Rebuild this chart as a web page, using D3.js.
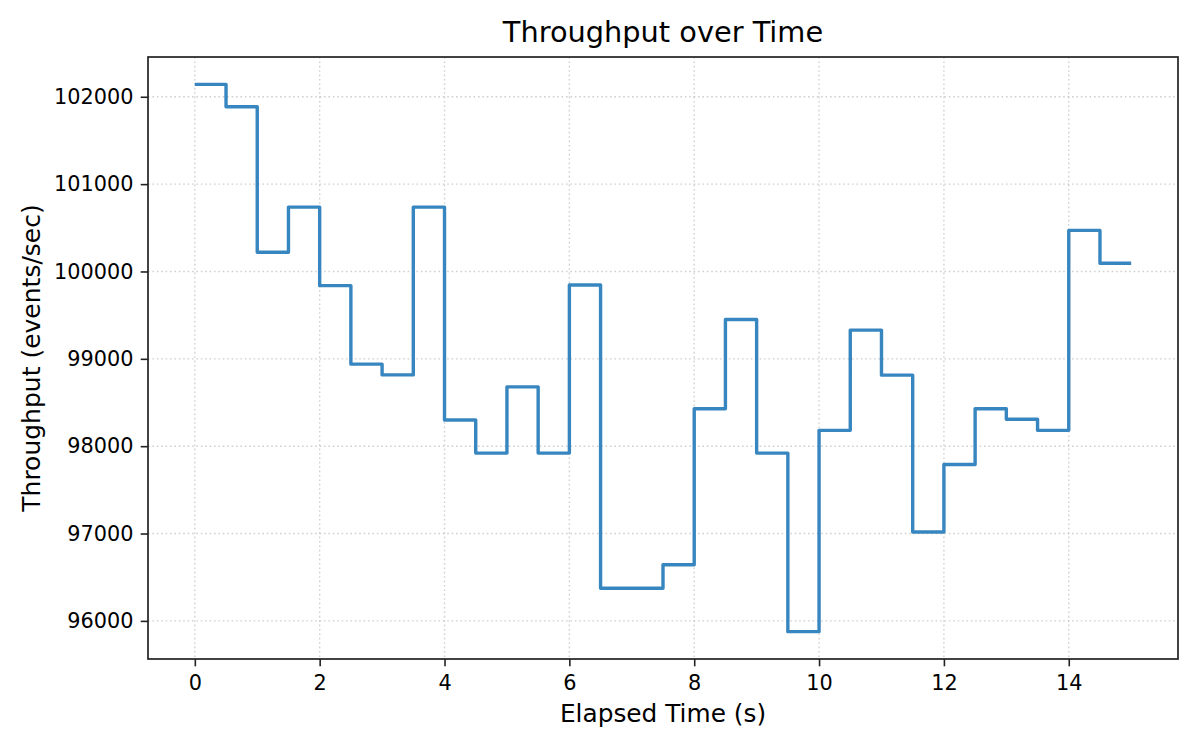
<!DOCTYPE html>
<meta charset="utf-8">
<style>
body { margin: 0; background: #fff; }
text { font-family: "DejaVu Sans", sans-serif; fill: #000; }
.axis path, .axis line { stroke: #222; }
.grid line { stroke: #b0b0b0; stroke-opacity: 0.6; stroke-width: 1.4; stroke-dasharray: 1.6,2.8; }
</style>
<body>
<svg width="1200" height="750"></svg>
<script src="https://d3js.org/d3.v7.min.js"></script>
<script>

// elapsed time (s) and throughput (events/sec), step drawn "post"
var times = [0, 0.5, 1, 1.5, 2, 2.5, 3, 3.5, 4, 4.5, 5, 5.5, 6, 6.5, 7, 7.5,
             8, 8.5, 9, 9.5, 10, 10.5, 11, 11.5, 12, 12.5, 13, 13.5, 14, 14.5, 15];
var throughput = [102142, 101885, 100220, 100737, 99838, 98939, 98816, 100737,
                  98300, 97921, 98679, 97921, 99846, 96374, 96374, 96643,
                  98429, 99451, 97921, 95877, 98181, 99329, 98813, 97017,
                  97791, 98429, 98308, 98181, 100470, 100094, 100094];
var xTicks = [0, 2, 4, 6, 8, 10, 12, 14];
var yTicks = [96000, 97000, 98000, 99000, 100000, 101000, 102000];

var data = times.map(function(t, i) { return {t: t, v: throughput[i]}; });

var svg = d3.select("svg"),
    g = svg.append("g");

var pLeft = 148, pRight = 1178, pTop = 57, pBottom = 659;

// 5% padding on both axes
var xMin = d3.min(times), xMax = d3.max(times), xPad = (xMax - xMin) * 0.05;
var yMin = d3.min(throughput), yMax = d3.max(throughput), yPad = (yMax - yMin) * 0.05;

var x = d3.scaleLinear().domain([xMin - xPad, xMax + xPad]).range([pLeft, pRight]);
var y = d3.scaleLinear().domain([yMin - yPad, yMax + yPad]).range([pBottom, pTop]);

// grid
g.append("g").attr("class", "grid")
  .selectAll("line").data(xTicks).enter().append("line")
    .attr("x1", function(d) { return x(d); }).attr("x2", function(d) { return x(d); })
    .attr("y1", pTop).attr("y2", pBottom);
g.append("g").attr("class", "grid")
  .selectAll("line").data(yTicks).enter().append("line")
    .attr("x1", pLeft).attr("x2", pRight)
    .attr("y1", function(d) { return y(d); }).attr("y2", function(d) { return y(d); });

// step line
var line = d3.line()
    .curve(d3.curveStepAfter)
    .x(function(d) { return x(d.t); })
    .y(function(d) { return y(d.v); });

g.append("path")
    .datum(data)
    .attr("fill", "none")
    .attr("stroke", "#3886c0")
    .attr("stroke-width", 3.4)
    .attr("stroke-linejoin", "round")
    .attr("d", line);

// axes
var xAxis = g.append("g").attr("class", "axis")
    .attr("transform", "translate(0," + pBottom + ")")
    .call(d3.axisBottom(x).tickValues(xTicks).tickSize(7.3).tickPadding(9).tickSizeOuter(0));
var yAxis = g.append("g").attr("class", "axis")
    .attr("transform", "translate(" + pLeft + ",0)")
    .call(d3.axisLeft(y).tickValues(yTicks).tickFormat(d3.format("d")).tickSize(7.3).tickPadding(7.3).tickSizeOuter(0));

g.selectAll(".axis line").attr("stroke-width", 1.6);
g.selectAll(".axis .domain").remove();
g.selectAll(".axis text").attr("font-size", 20.8).attr("fill", "#000")
    .attr("font-family", "DejaVu Sans, sans-serif");

// frame
g.append("rect")
    .attr("x", pLeft).attr("y", pTop)
    .attr("width", pRight - pLeft).attr("height", pBottom - pTop)
    .attr("fill", "none").attr("stroke", "#222").attr("stroke-width", 1.7);

// labels
g.append("text")
    .attr("x", (pLeft + pRight) / 2).attr("y", 42)
    .attr("text-anchor", "middle").attr("font-size", 28.8)
    .text("Throughput over Time");

g.append("text")
    .attr("x", (pLeft + pRight) / 2).attr("y", 722)
    .attr("text-anchor", "middle").attr("font-size", 24.8)
    .text("Elapsed Time (s)");

g.append("text")
    .attr("transform", "translate(39.5," + ((pTop + pBottom) / 2) + ") rotate(-90)")
    .attr("text-anchor", "middle").attr("font-size", 25)
    .text("Throughput (events/sec)");

</script>
</body>
